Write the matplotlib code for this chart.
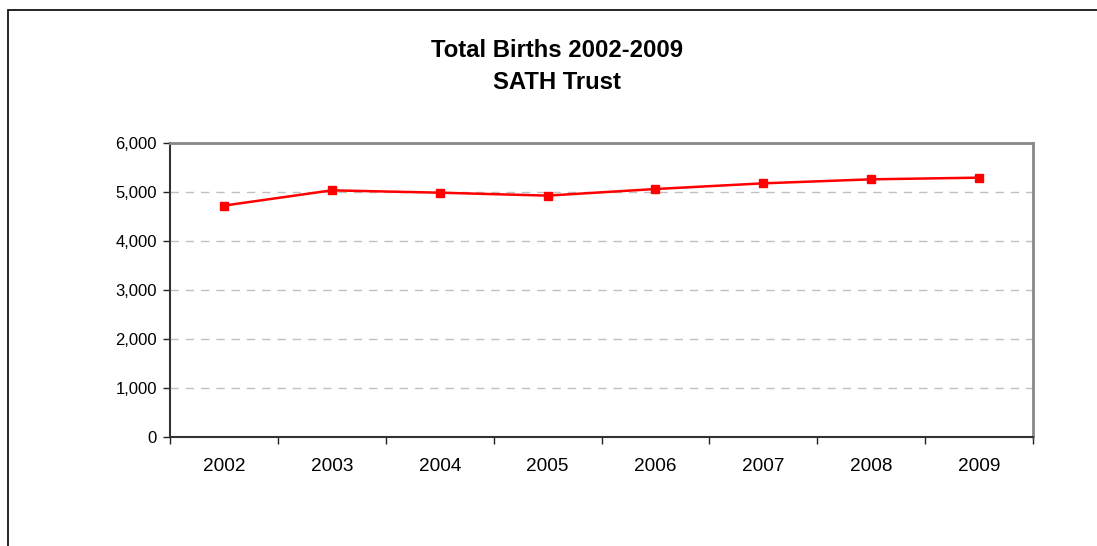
#!/usr/bin/env python
"""
Total births line chart, SATH Trust.
"""

import matplotlib.pyplot as plt
import matplotlib.patches as patches
from matplotlib.ticker import FuncFormatter, FixedLocator

plt.rc("font", family=["Liberation Sans", "DejaVu Sans"])

years  = ["2002", "2003", "2004", "2005", "2006", "2007", "2008", "2009"]
births = [4721, 5033, 4985, 4925, 5060, 5176, 5258, 5292]
yTicks = [0, 1000, 2000, 3000, 4000, 5000, 6000]

W, H = 1097, 546
fig = plt.figure(figsize=(W/100, H/100), dpi=100)

# Plot area in pixels
left, right, top, bottom = 170, 1033, 143, 436.7
ax = fig.add_axes([left/W, 1 - bottom/H, (right-left)/W, (bottom-top)/H])

xs = list(range(len(years)))
ax.plot(xs, births, color="#ff0000", lw=1.8, marker="s", ms=5.5,
        mec="#ff0000", mfc="#ff0000", zorder=3)

ax.set_xlim(-0.5, len(years) - 0.5)
ax.set_ylim(yTicks[0], yTicks[-1])

# Category boundaries as major ticks, labels on minor ticks
ax.xaxis.set_major_locator(FixedLocator([i - 0.5 for i in range(len(years) + 1)]))
ax.xaxis.set_minor_locator(FixedLocator(xs))
ax.set_xticklabels([], minor=False)
ax.set_xticklabels(years, minor=True, fontsize=13.7)
ax.tick_params(axis="x", which="major", direction="out", length=5, width=1, color="#222222")
ax.tick_params(axis="x", which="minor", length=0, pad=15.3)

ax.set_yticks(yTicks)
ax.yaxis.set_major_formatter(FuncFormatter(lambda v, p: "{:,.0f}".format(v)))
ax.tick_params(axis="y", direction="out", length=5, width=1, color="#222222",
               labelsize=12, pad=4.5)

ax.yaxis.grid(True, color="#c0c0c0", ls=(0, (6, 5)), lw=1)
ax.set_axisbelow(True)

for side in ["left", "bottom"]:
    ax.spines[side].set_color("#333333")
    ax.spines[side].set_linewidth(1.5)
for side in ["top", "right"]:
    ax.spines[side].set_color("#888888")
    ax.spines[side].set_linewidth(2)

fig.text(557/W, 1 - 66.5/H, "Total Births 2002-2009\nSATH Trust",
         ha="center", va="center", fontsize=17.2, fontweight="bold",
         linespacing=1.5)

# Outer chart border (runs off the right and bottom edges)
fig.patches.append(patches.Rectangle((7.5/W, -0.1), 1.2, 1 - 9.5/H + 0.1,
                                     transform=fig.transFigure, fill=False,
                                     edgecolor="black", lw=1.2))

fig.savefig("out.png", dpi=100)
